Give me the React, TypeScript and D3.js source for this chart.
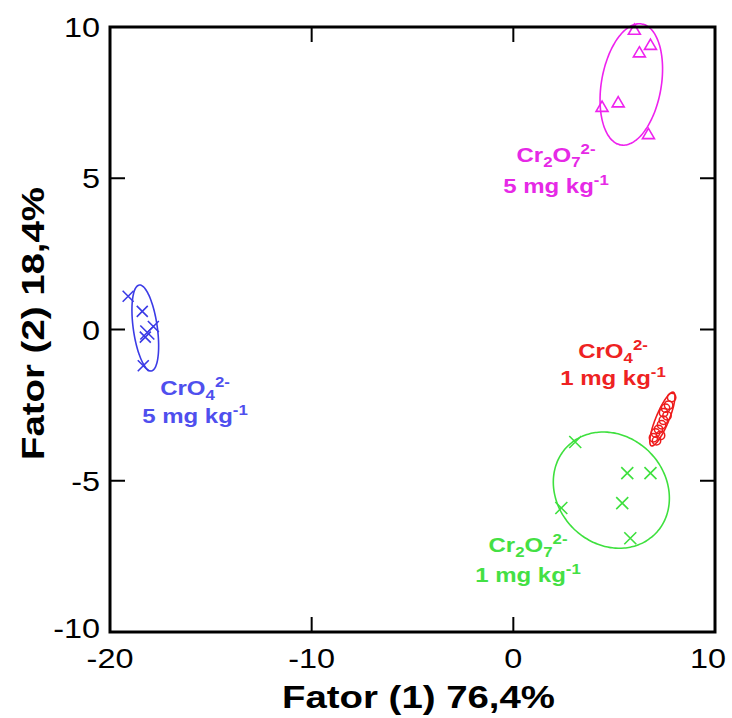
import React from 'react';
import * as d3 from 'd3';

const W = 732;
const H = 718;

const X_TICKS = [-20, -10, 0, 10];
const Y_TICKS = [-10, -5, 0, 5, 10];
const X_INNER = [-10, 0];
const Y_INNER = [-5, 0, 5];

// Cr2O7 2- 5 mg/kg (triangles)
const magX = [6.0, 6.25, 6.8, 4.4, 5.2, 6.7];
const magY = [9.9, 9.15, 9.4, 7.35, 7.5, 6.45];

// CrO4 2- 5 mg/kg (crosses)
const blueX = [-19.1, -18.4, -17.85, -18.15, -18.25, -18.35];
const blueY = [1.1, 0.6, 0.1, -0.1, -0.25, -1.2];

// CrO4 2- 1 mg/kg (circles)
const redX = [7.85, 7.7, 7.55, 7.62, 7.44, 7.35, 7.2, 7.05, 7.3, 7.1, 6.95, 7.45];
const redY = [-2.25, -2.5, -2.6, -2.85, -3.0, -3.15, -3.3, -3.42, -3.5, -3.68, -3.58, -2.75];

// Cr2O7 2- 1 mg/kg (crosses)
const greenX = [3.07, 5.65, 6.8, 5.4, 2.38, 5.8];
const greenY = [-3.72, -4.75, -4.75, -5.74, -5.9, -6.9];

// confidence ellipses: center, half-axis vectors (data units)
const ELLIPSES = [
  { key: 'mag', color: '#ee22ee', c: [5.85, 8.1], a: [0.52, 2.0], b: [1.46, -0.17] },
  { key: 'blue', color: '#3b3be6', c: [-18.25, 0.05], a: [-0.3, 1.42], b: [0.59, 0.055] },
  { key: 'red', color: '#ee1c1c', c: [7.39, -2.96], a: [0.546, 0.886], b: [0.3, -0.08] },
  { key: 'green', color: '#3ee03e', c: [4.86, -5.31], a: [2.17, -1.45], b: [1.89, 1.26] },
];

const x = d3.scaleLinear().domain([-20, 10]).range([110, 715]);
const y = d3.scaleLinear().domain([-10, 10]).range([632, 27]);

const SX = 1.2; // horizontal stretch of the original figure text

function ellipsePath(e: typeof ELLIPSES[number]) {
  const pts: [number, number][] = d3.range(0, 360, 3).map((deg) => {
    const t = (deg * Math.PI) / 180;
    const dx = e.c[0] + e.a[0] * Math.cos(t) + e.b[0] * Math.sin(t);
    const dy = e.c[1] + e.a[1] * Math.cos(t) + e.b[1] * Math.sin(t);
    return [x(dx), y(dy)];
  });
  return d3.line().curve(d3.curveCardinalClosed)(pts) || '';
}

function Cross({ cx, cy, r, color }: { cx: number; cy: number; r: number; color: string }) {
  return (
    <path
      d={`M${cx - r},${cy - r}L${cx + r},${cy + r}M${cx - r},${cy + r}L${cx + r},${cy - r}`}
      stroke={color}
      strokeWidth={1.6}
      fill="none"
    />
  );
}

function Label({
  cx,
  y1,
  y2,
  color,
  sub1,
  sub2,
  dose,
}: {
  cx: number;
  y1: number;
  y2: number;
  color: string;
  sub1?: string;
  sub2: string;
  dose: string;
}) {
  const style = { fontFamily: 'Liberation Sans, Arial, sans-serif', fontWeight: 700 } as const;
  return (
    <g fill={color} style={style}>
      <text transform={`translate(${cx},${y1}) scale(${SX},1)`} textAnchor="middle" fontSize={20}>
        <tspan>Cr</tspan>
        {sub1 && (
          <tspan fontSize={14} dy={5}>
            {sub1}
          </tspan>
        )}
        <tspan fontSize={20} dy={sub1 ? -5 : 0}>
          O
        </tspan>
        <tspan fontSize={14} dy={5}>
          {sub2}
        </tspan>
        <tspan fontSize={14} dy={-13}>
          2-
        </tspan>
      </text>
      <text transform={`translate(${cx},${y2}) scale(${SX},1)`} textAnchor="middle" fontSize={20}>
        <tspan>{dose} mg kg</tspan>
        <tspan fontSize={14} dy={-8}>
          -1
        </tspan>
      </text>
    </g>
  );
}

export default function App() {
  const font = 'Liberation Sans, Arial, sans-serif';
  const [x0, x1] = x.range();
  const [yb, yt] = y.range();

  return (
    <svg
      width={W}
      height={H}
      viewBox={`0 0 ${W} ${H}`}
      style={{ position: 'absolute', left: 0, top: 0, background: '#fff' }}
    >
      {/* ellipses */}
      {ELLIPSES.map((e) => (
        <path key={e.key} d={ellipsePath(e)} fill="none" stroke={e.color} strokeWidth={1.6} />
      ))}

      {/* magenta triangles */}
      {magX.map((v, i) => {
        const px = x(v);
        const py = y(magY[i]);
        const s = 6;
        return (
          <path
            key={`m${i}`}
            d={`M${px},${py - s}L${px + s},${py + s * 0.7}L${px - s},${py + s * 0.7}Z`}
            fill="none"
            stroke="#ee22ee"
            strokeWidth={1.6}
          />
        );
      })}

      {/* blue crosses */}
      {blueX.map((v, i) => (
        <Cross key={`b${i}`} cx={x(v)} cy={y(blueY[i])} r={i === 3 ? 7 : 5.5} color="#3b3be6" />
      ))}

      {/* green crosses */}
      {greenX.map((v, i) => (
        <Cross key={`g${i}`} cx={x(v)} cy={y(greenY[i])} r={6} color="#3ee03e" />
      ))}

      {/* red circles */}
      {redX.map((v, i) => (
        <circle key={`r${i}`} cx={x(v)} cy={y(redY[i])} r={4.2} fill="none" stroke="#ee1c1c" strokeWidth={1.5} />
      ))}

      {/* frame */}
      <rect x={x0} y={yt} width={x1 - x0} height={yb - yt} fill="none" stroke="#000" strokeWidth={3} />

      {/* inner ticks */}
      {X_INNER.map((t) => (
        <g key={`xt${t}`} stroke="#000" strokeWidth={2}>
          <line x1={x(t)} x2={x(t)} y1={yb} y2={yb - 15} />
          <line x1={x(t)} x2={x(t)} y1={yt} y2={yt + 15} />
        </g>
      ))}
      {Y_INNER.map((t) => (
        <g key={`yt${t}`} stroke="#000" strokeWidth={2}>
          <line x1={x0} x2={x0 + 15} y1={y(t)} y2={y(t)} />
          <line x1={x1} x2={x1 - 15} y1={y(t)} y2={y(t)} />
        </g>
      ))}

      {/* tick labels */}
      {X_TICKS.map((t) => (
        <text
          key={`xl${t}`}
          transform={`translate(${Math.min(x(t), 708)},${yb + 36}) scale(${SX},1)`}
          textAnchor="middle"
          fontSize={27}
          fontFamily={font}
        >
          {t}
        </text>
      ))}
      {Y_TICKS.map((t) => (
        <text
          key={`yl${t}`}
          transform={`translate(${x0 - 10},${y(t) + 10 - (t === -10 ? 4 : 0)}) scale(${SX},1)`}
          textAnchor="end"
          fontSize={27}
          fontFamily={font}
        >
          {t}
        </text>
      ))}

      {/* axis titles */}
      <text
        transform={`translate(${(x0 + x1) / 2 + 6},${708}) scale(1.2,1)`}
        textAnchor="middle"
        fontSize={32}
        fontWeight={700}
        fontFamily={font}
      >
        Fator (1) 76,4%
      </text>
      <text
        transform={`translate(${44},${(yb + yt) / 2 - 6}) rotate(-90) scale(1.2,1)`}
        textAnchor="middle"
        fontSize={32}
        fontWeight={700}
        fontFamily={font}
      >
        Fator (2) 18,4%
      </text>

      {/* group labels */}
      <Label cx={556} y1={162} y2={193} color="#e629e6" sub1="2" sub2="7" dose="5" />
      <Label cx={195} y1={395} y2={423} color="#4f4fee" sub2="4" dose="5" />
      <Label cx={613} y1={358} y2={385} color="#ee2222" sub2="4" dose="1" />
      <Label cx={528} y1={552} y2={582} color="#44e044" sub1="2" sub2="7" dose="1" />
    </svg>
  );
}
